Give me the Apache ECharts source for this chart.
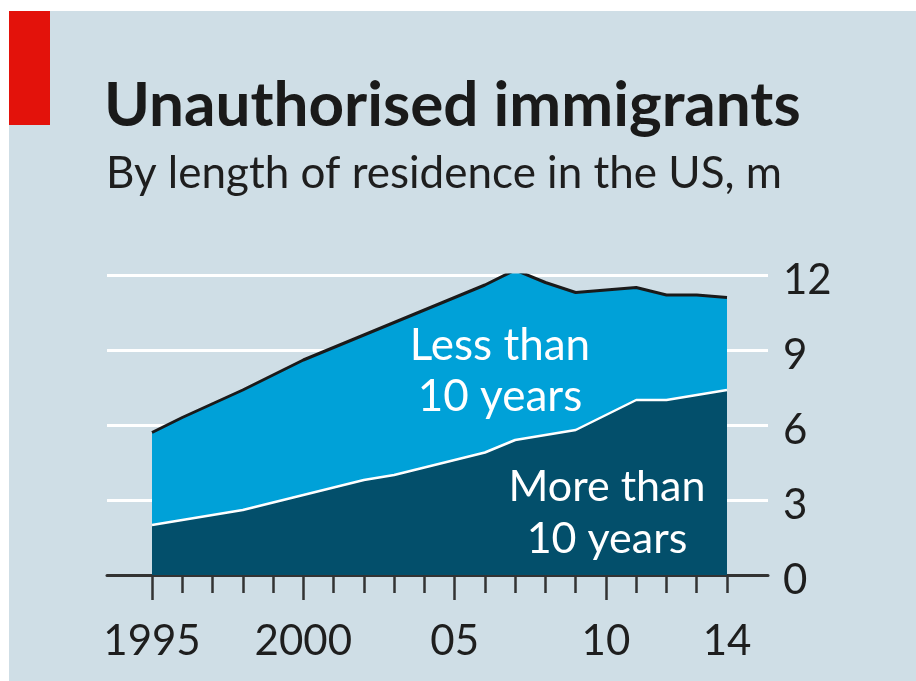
<!DOCTYPE html>
<html>
<head>
<meta charset="utf-8">
<script src="https://cdn.jsdelivr.net/npm/echarts@6/dist/echarts.min.js"></script>
<style>
  html, body { margin: 0; padding: 0; background: #ffffff; }
  #chart { width: 916px; height: 681px; }
</style>
</head>
<body>
<div id="chart"></div>
<script>
// ---- Data (millions) ----
const years = ['1995','1996','1997','1998','1999','2000','2001','2002','2003','2004',
               '2005','2006','2007','2008','2009','2010','2011','2012','2013','2014'];
const moreThan10 = [2.0, 2.2, 2.4, 2.6, 2.9, 3.2, 3.5, 3.8, 4.0, 4.3,
                    4.6, 4.9, 5.4, 5.6, 5.8, 6.4, 7.0, 7.0, 7.2, 7.4];
const lessThan10 = [3.7, 4.1, 4.45, 4.8, 5.1, 5.4, 5.6, 5.8, 6.1, 6.3,
                    6.5, 6.7, 6.8, 6.1, 5.5, 5.0, 4.5, 4.2, 4.0, 3.7];
const tickYears  = ['1995', '2000', '2005', '2010', '2014'];
const tickLabels = ['1995', '2000', '05', '10', '14'];
const majorTickYears = ['1995', '2000', '2005', '2010'];
const yTicks = [0, 3, 6, 9, 12];

const FONT = 'Lato, "Open Sans", sans-serif';
const BG = '#cfdee6';
const TEXT = '#1e1e1e';

const chart = echarts.init(document.getElementById('chart'), null, { renderer: 'canvas' });

const dataGrid = { left: 152, right: 189, top: 275, bottom: 106 };
const wideGrid = { left: 107, right: 148, top: 275, bottom: 106 };

chart.setOption({
  backgroundColor: BG,
  animation: false,
  grid: [dataGrid, wideGrid],
  xAxis: [
    { // data axis: minor ticks + labels
      type: 'category', gridIndex: 0, data: years, boundaryGap: false,
      axisLine: { show: false },
      axisTick: { show: true, interval: 0, length: 18, lineStyle: { color: '#333', width: 2.5 } },
      axisLabel: {
        interval: function (i, v) { return tickYears.indexOf(v) >= 0; },
        formatter: function (v) { const k = tickYears.indexOf(v); return k >= 0 ? tickLabels[k] : ''; },
        margin: 45, fontFamily: FONT, fontSize: 42, color: TEXT
      },
      splitLine: { show: false }
    },
    { // long ticks
      type: 'category', gridIndex: 0, data: years, boundaryGap: false, position: 'bottom',
      axisLine: { show: false },
      axisTick: { show: true, interval: function (i, v) { return majorTickYears.indexOf(v) >= 0; },
                  length: 25, lineStyle: { color: '#333', width: 2.5 } },
      axisLabel: { show: false },
      splitLine: { show: false }
    },
    { // wide base line
      type: 'value', gridIndex: 1, min: 0, max: 1,
      axisLine: { show: true, lineStyle: { color: '#333', width: 3 } },
      axisTick: { show: false }, axisLabel: { show: false }, splitLine: { show: false }
    }
  ],
  yAxis: [
    { type: 'value', gridIndex: 0, min: 0, max: 12, interval: 3, show: false },
    {
      type: 'value', gridIndex: 1, min: 0, max: 12, interval: 3, position: 'right',
      axisLine: { show: false }, axisTick: { show: false },
      axisLabel: { margin: 15, fontFamily: FONT, fontSize: 42, color: TEXT,
                   verticalAlign: 'top', lineHeight: 10,
                   formatter: function (v) { return yTicks.indexOf(v) >= 0 ? String(v) : ''; } },
      splitLine: { show: true, lineStyle: { color: '#ffffff', width: 3 } }
    }
  ],
  series: [
    {
      name: 'More than 10 years', type: 'line', stack: 'total',
      xAxisIndex: 0, yAxisIndex: 0, data: moreThan10,
      symbol: 'none', z: 4,
      lineStyle: { color: '#ffffff', width: 2.5 },
      areaStyle: { color: '#034f6b', opacity: 1 }
    },
    {
      name: 'Less than 10 years', type: 'line', stack: 'total',
      xAxisIndex: 0, yAxisIndex: 0, data: lessThan10,
      symbol: 'none', z: 3,
      lineStyle: { color: '#1a1a1a', width: 3 },
      areaStyle: { color: '#00a1d8', opacity: 1 }
    }
  ],
  graphic: [
    { type: 'rect', z: 100, shape: { x: 0, y: 0, width: 916, height: 11 }, style: { fill: '#ffffff' } },
    { type: 'rect', z: 100, shape: { x: 0, y: 0, width: 9, height: 681 }, style: { fill: '#ffffff' } },
    { type: 'rect', z: 100, shape: { x: 9, y: 11, width: 41, height: 114 }, style: { fill: '#e3120b' } },
    { type: 'text', z: 100, x: 104, y: 106,
      style: { text: 'Unauthorised immigrants', font: 'bold 62px ' + FONT, fill: '#1a1a1a',
               align: 'left', verticalAlign: 'middle' } },
    { type: 'text', z: 100, x: 106, y: 174,
      style: { text: 'By length of residence in the US, m', font: '44px ' + FONT, fill: TEXT,
               align: 'left', verticalAlign: 'middle' } },
    { type: 'text', z: 100, x: 500, y: 371,
      style: { text: 'Less than\n10 years', font: '44px ' + FONT, fill: '#ffffff', lineHeight: 51,
               align: 'center', verticalAlign: 'middle' } },
    { type: 'text', z: 100, x: 607, y: 513,
      style: { text: 'More than\n10 years', font: '43px ' + FONT, fill: '#ffffff', lineHeight: 52,
               align: 'center', verticalAlign: 'middle' } }
  ]
});
</script>
</body>
</html>
